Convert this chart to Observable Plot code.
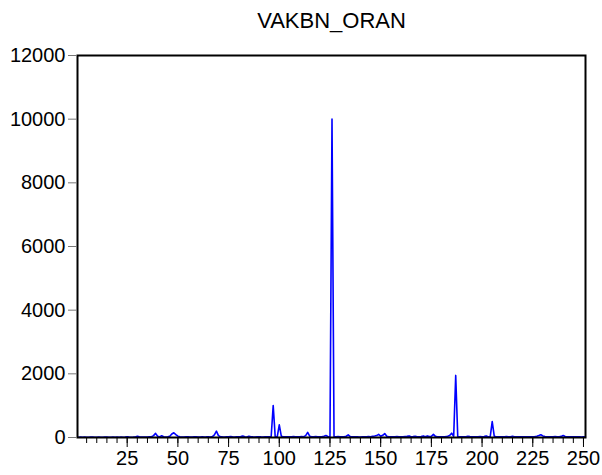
<!DOCTYPE html>
<html>
<head>
<meta charset="utf-8">
<script src="https://cdn.jsdelivr.net/npm/d3@7"></script>
<script src="https://cdn.jsdelivr.net/npm/@observablehq/plot@0.6"></script>
<style>
  body { margin: 0; background: #fff; }
  #chart svg { display: block; }
</style>
</head>
<body>
<div id="chart"></div>
<script>
const title = "VAKBN_ORAN";
const yTicks = [0, 2000, 4000, 6000, 8000, 10000, 12000];
const xMajorTicks = [25, 50, 75, 100, 125, 150, 175, 200, 225, 250];
const xMinorTicks = d3.range(5, 251, 5);
const values = [
  10,12,8,15,10,9,12,11,8,10,
  12,9,10,14,11,8,10,12,9,11,
  10,13,9,12,25,15,10,12,18,40,
  20,15,12,18,14,20,25,60,130,40,
  20,55,25,15,20,40,110,150,90,40,
  25,18,15,20,22,18,15,20,25,18,
  15,22,18,20,25,18,30,80,200,60,
  25,20,18,22,25,30,20,18,25,22,
  30,45,20,18,40,25,20,18,22,25,
  20,18,25,20,22,30,1000,20,30,400,
  40,20,25,22,20,25,30,22,20,25,
  30,25,60,160,40,25,20,30,25,22,
  25,40,60,30,25,10000,25,20,30,22,
  20,25,40,85,30,20,22,25,20,18,
  22,25,20,30,25,35,45,60,100,40,
  70,125,40,25,22,20,25,30,22,20,
  25,30,35,50,25,30,40,20,25,30,
  50,25,50,30,40,100,35,25,22,20,
  25,30,40,60,135,40,1950,30,25,20,
  22,25,40,30,25,20,22,25,30,22,
  30,50,25,20,500,40,25,20,22,25,
  20,30,22,25,35,25,20,22,25,20,
  25,20,22,25,22,30,40,60,85,50,
  30,25,22,20,25,30,22,25,35,60,
  30,22,25,20,22,25,20,22,18,20,
  15
];
const obs = values.map((v, i) => i + 1);
const data = values.map((v, i) => ({t: obs[i], v}));

const chart = Plot.plot({
  width: 602,
  height: 475,
  marginLeft: 77,
  marginRight: 17,
  marginTop: 55,
  marginBottom: 38,
  style: {fontFamily: "'Liberation Sans', Arial, sans-serif", fontSize: "20px", color: "#000", background: "#fff"},
  x: {domain: [0.5, 251], label: null},
  y: {domain: [0, 12000], label: null},
  marks: [
    Plot.line(data, {x: "t", y: "v", stroke: "#0000ff", strokeWidth: 1.6}),
    Plot.frame({stroke: "#000", strokeWidth: 2}),
    Plot.axisY(yTicks, {tickSize: 9, tickPadding: 3, stroke: "#777", fill: "#000", fontSize: 20, tickFormat: d => String(d)}),
    Plot.axisX(xMinorTicks, {tickSize: 6, tickFormat: null, text: null, stroke: "#000"}),
    Plot.axisX(xMajorTicks, {tickSize: 10, tickPadding: 3, stroke: "#000", fill: "#000", fontSize: 20, tickFormat: d => String(d)}),
    Plot.text([title], {frameAnchor: "top", dy: -28, lineAnchor: "bottom", fontSize: 22, fill: "#000"})
  ]
});
document.getElementById("chart").appendChild(chart);
</script>
</body>
</html>
